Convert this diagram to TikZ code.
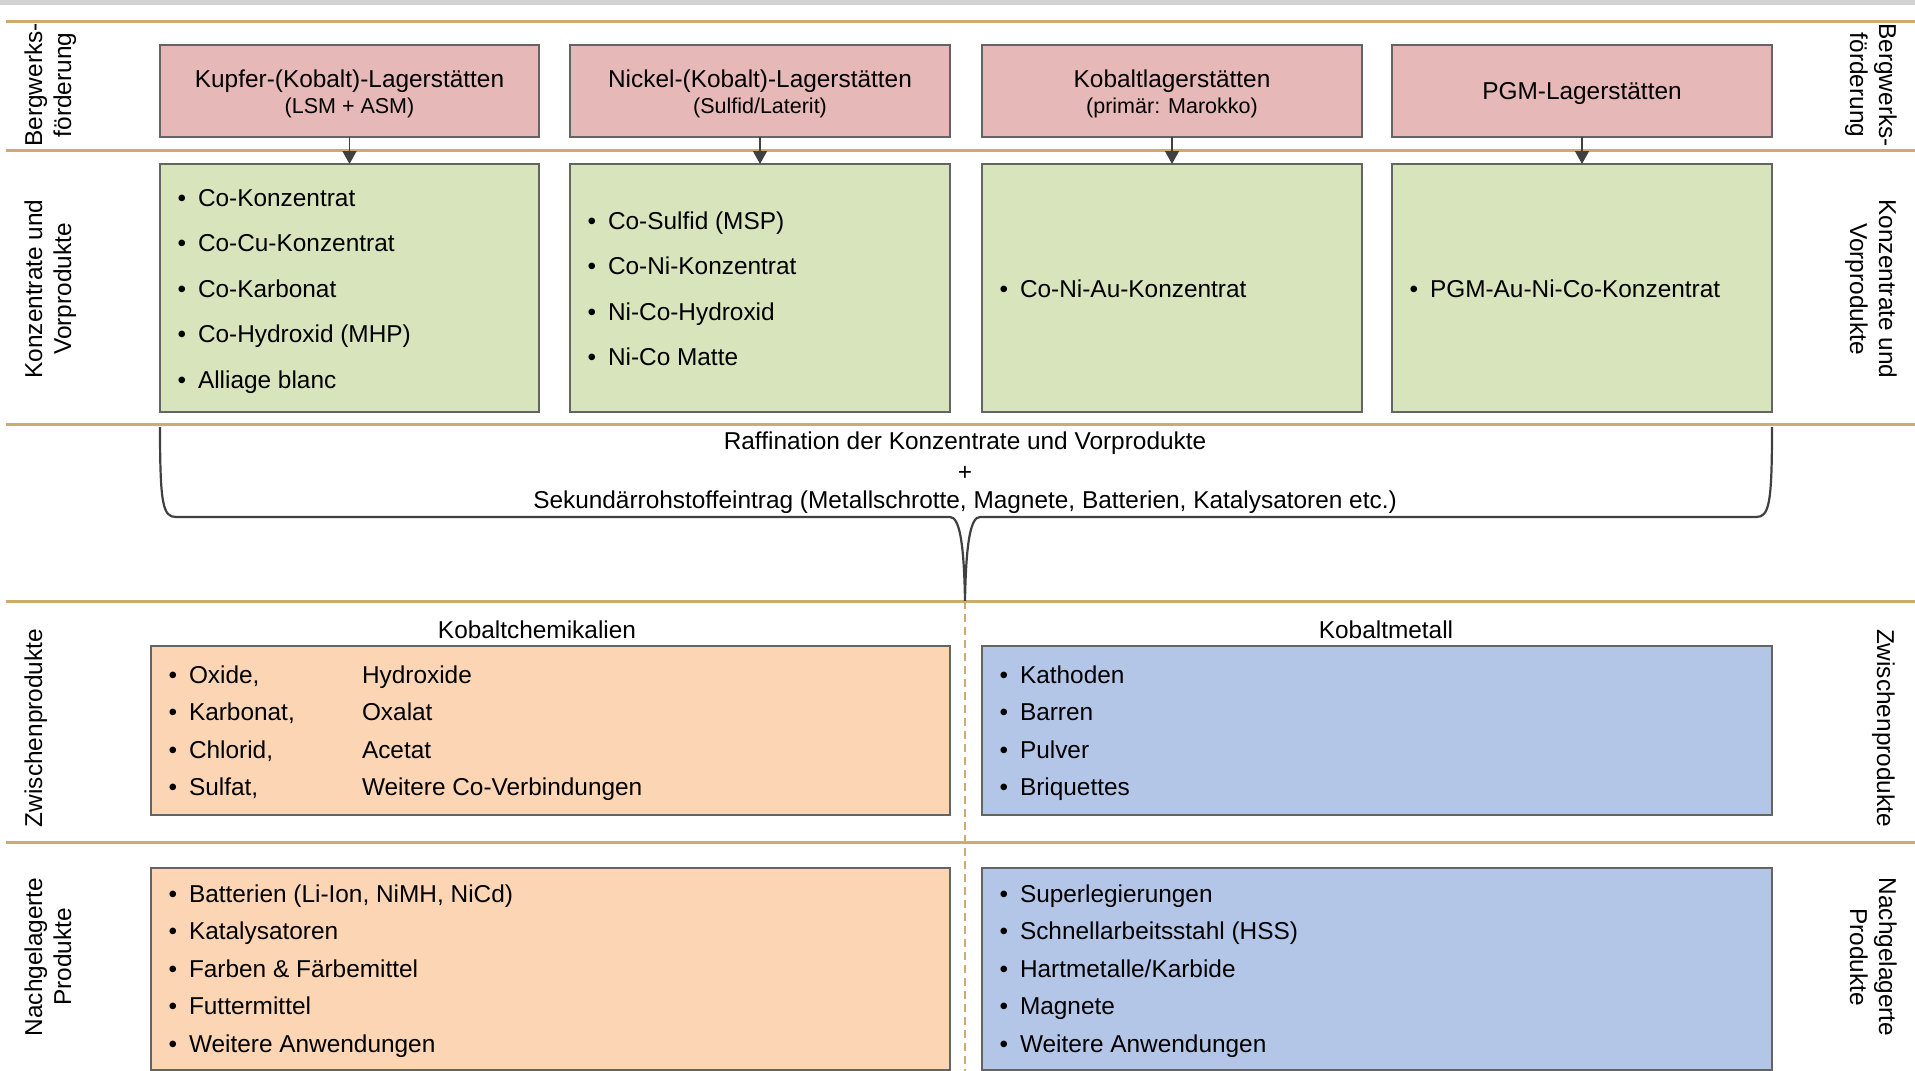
\documentclass[tikz,border=0pt]{standalone}
\usepackage{fontspec}
\setmainfont{Liberation Sans}
\usetikzlibrary{arrows.meta}
\definecolor{gold}{RGB}{204,171,108}
\definecolor{pinkf}{RGB}{230,184,183}
\definecolor{greenf}{RGB}{216,228,188}
\definecolor{orangef}{RGB}{252,213,180}
\definecolor{bluef}{RGB}{180,198,231}
\definecolor{edgec}{RGB}{100,100,100}
\definecolor{arrowc}{RGB}{64,64,64}
\definecolor{topbar}{RGB}{210,210,210}
\newcommand\myitem[4]{%
  \node[txt,anchor=base] (#1b) at (#2+22,#3) {\textbullet};
  \node[txt,anchor=base west] (#1) at (#2+38,#3) {#4};}
\begin{document}
\begin{tikzpicture}[x=1pt,y=-1pt,
  box/.style={draw=edgec,line width=1.4pt,inner sep=0pt,outer sep=0pt},
  txt/.style={inner sep=0pt,outer sep=0pt,font=\fontsize{24.4}{29}\selectfont},
  subtxt/.style={inner sep=0pt,outer sep=0pt,font=\fontsize{21.5}{25}\selectfont},
  goldline/.style={draw=gold,line width=3pt},
  golddash/.style={draw=gold,line width=2.5pt,dash pattern=on 8pt off 5pt},
  conn/.style={draw=arrowc,line width=1.5pt,-{Triangle[length=13pt,width=14pt]}},
  bracec/.style={draw=arrowc,line width=2.2pt,line join=round}]
\useasboundingbox (0,0) rectangle (1915,1071);
\fill[topbar] (0,0) rectangle (1915,5);

% separator lines
\foreach \yy in {21,150,424,601,842} {\draw[goldline] (6,\yy) -- (1915,\yy);}

% row 1 boxes
\node[box,fill=pinkf,minimum width=379pt,minimum height=92pt] (p1) at (349.5,91) {};
\node[box,fill=pinkf,minimum width=380pt,minimum height=92pt] (p2) at (760,91) {};
\node[box,fill=pinkf,minimum width=380pt,minimum height=92pt] (p3) at (1172,91) {};
\node[box,fill=pinkf,minimum width=380pt,minimum height=92pt] (p4) at (1582,91) {};
\node[txt,anchor=base] (p1t) at (349.5,87) {Kupfer-(Kobalt)-Lagerstätten};
\node[subtxt,anchor=base] (p1s) at (349.5,113) {(LSM + ASM)};
\node[txt,anchor=base] (p2t) at (760,87) {Nickel-(Kobalt)-Lagerstätten};
\node[subtxt,anchor=base] (p2s) at (760,113) {(Sulfid/Laterit)};
\node[txt,anchor=base] (p3t) at (1172,87) {Kobaltlagerstätten};
\node[subtxt,anchor=base] (p3s) at (1172,113) {(primär: Marokko)};
\node[txt,anchor=base] (p4t) at (1582,99) {PGM-Lagerstätten};

% row 2 boxes
\node[box,fill=greenf,minimum width=379pt,minimum height=248pt] (g1) at (349.5,288) {};
\node[box,fill=greenf,minimum width=380pt,minimum height=248pt] (g2) at (760,288) {};
\node[box,fill=greenf,minimum width=380pt,minimum height=248pt] (g3) at (1172,288) {};
\node[box,fill=greenf,minimum width=380pt,minimum height=248pt] (g4) at (1582,288) {};
\myitem{ga}{160}{206}{Co-Konzentrat}
\myitem{gb}{160}{251.5}{Co-Cu-Konzentrat}
\myitem{gc}{160}{297}{Co-Karbonat}
\myitem{gd}{160}{342.5}{Co-Hydroxid (MHP)}
\myitem{ge}{160}{388}{Alliage blanc}
\myitem{gf}{570}{229}{Co-Sulfid (MSP)}
\myitem{gg}{570}{274.5}{Co-Ni-Konzentrat}
\myitem{gh}{570}{320}{Ni-Co-Hydroxid}
\myitem{gi}{570}{365.5}{Ni-Co Matte}
\myitem{gj}{982}{297}{Co-Ni-Au-Konzentrat}
\myitem{gk}{1392}{297}{PGM-Au-Ni-Co-Konzentrat}

% arrows
\draw[conn] (p1.south) -- (g1.north);
\draw[conn] (p2.south) -- (g2.north);
\draw[conn] (p3.south) -- (g3.north);
\draw[conn] (p4.south) -- (g4.north);

% brace
\coordinate (brL) at (160,427);
\coordinate (brR) at (1772,427);
\coordinate (brT) at (965,601);
\draw[bracec] (brL) .. controls (160,505) and (163,517) .. (176,517) -- (950,517)
  .. controls (959,517) and (964,540) .. (brT)
  .. controls (966,540) and (971,517) .. (980,517) -- (1756,517)
  .. controls (1769,517) and (1772,505) .. (brR);
\node[txt,anchor=base] (r1) at (965,449) {Raffination der Konzentrate und Vorprodukte};
\node[txt,anchor=base] (r2) at (965,480) {+};
\node[txt,anchor=base] (r3) at (965,508) {Sekundärrohstoffeintrag (Metallschrotte, Magnete, Batterien, Katalysatoren etc.)};

% dashed divider
\coordinate (dvB) at (965,1071);
\draw[golddash] (brT) -- (dvB);

% row 3
\node[txt,anchor=base] (h1) at (537,638) {Kobaltchemikalien};
\node[txt,anchor=base] (h2) at (1386,638) {Kobaltmetall};
\node[box,fill=orangef,minimum width=799pt,minimum height=169pt] (o1) at (550.5,730.5) {};
\node[box,fill=bluef,minimum width=790pt,minimum height=169pt] (b1) at (1377,730.5) {};
\myitem{oa}{151}{683}{Oxide,}
\myitem{ob}{151}{720.5}{Karbonat,}
\myitem{oc}{151}{758}{Chlorid,}
\myitem{od}{151}{795.5}{Sulfat,}
\node[txt,anchor=base west] (oe) at (362,683) {Hydroxide};
\node[txt,anchor=base west] (of) at (362,720.5) {Oxalat};
\node[txt,anchor=base west] (og) at (362,758) {Acetat};
\node[txt,anchor=base west] (oh) at (362,795.5) {Weitere Co-Verbindungen};
\myitem{ba}{982}{683}{Kathoden}
\myitem{bb}{982}{720.5}{Barren}
\myitem{bc}{982}{758}{Pulver}
\myitem{bd}{982}{795.5}{Briquettes}

% row 4
\node[box,fill=orangef,minimum width=799pt,minimum height=202pt] (o2) at (550.5,969) {};
\node[box,fill=bluef,minimum width=790pt,minimum height=202pt] (b2) at (1377,969) {};
\myitem{pa}{151}{902}{Batterien (Li-Ion, NiMH, NiCd)}
\myitem{pb}{151}{939.5}{Katalysatoren}
\myitem{pc}{151}{977}{Farben \& Färbemittel}
\myitem{pd}{151}{1014.5}{Futtermittel}
\myitem{pe}{151}{1052}{Weitere Anwendungen}
\myitem{qa}{982}{902}{Superlegierungen}
\myitem{qb}{982}{939.5}{Schnellarbeitsstahl (HSS)}
\myitem{qc}{982}{977}{Hartmetalle/Karbide}
\myitem{qd}{982}{1014.5}{Magnete}
\myitem{qe}{982}{1052}{Weitere Anwendungen}

% left labels
\node[txt,rotate=90,anchor=base] (l1a) at (42,85) {Bergwerks-};
\node[txt,rotate=90,anchor=base] (l1b) at (71,85) {förderung};
\node[txt,rotate=90,anchor=base] (l2a) at (42,289) {Konzentrate und};
\node[txt,rotate=90,anchor=base] (l2b) at (71,289) {Vorprodukte};
\node[txt,rotate=90,anchor=base] (l3a) at (42,728) {Zwischenprodukte};
\node[txt,rotate=90,anchor=base] (l4a) at (42,957) {Nachgelagerte};
\node[txt,rotate=90,anchor=base] (l4b) at (71,957) {Produkte};
% right labels
\node[txt,rotate=-90,anchor=base] (r1a) at (1879,85) {Bergwerks-};
\node[txt,rotate=-90,anchor=base] (r1b) at (1850,85) {förderung};
\node[txt,rotate=-90,anchor=base] (r2a) at (1879,289) {Konzentrate und};
\node[txt,rotate=-90,anchor=base] (r2b) at (1850,289) {Vorprodukte};
\node[txt,rotate=-90,anchor=base] (r3a) at (1877,728) {Zwischenprodukte};
\node[txt,rotate=-90,anchor=base] (r4a) at (1879,957) {Nachgelagerte};
\node[txt,rotate=-90,anchor=base] (r4b) at (1850,957) {Produkte};
\end{tikzpicture}
\end{document}
